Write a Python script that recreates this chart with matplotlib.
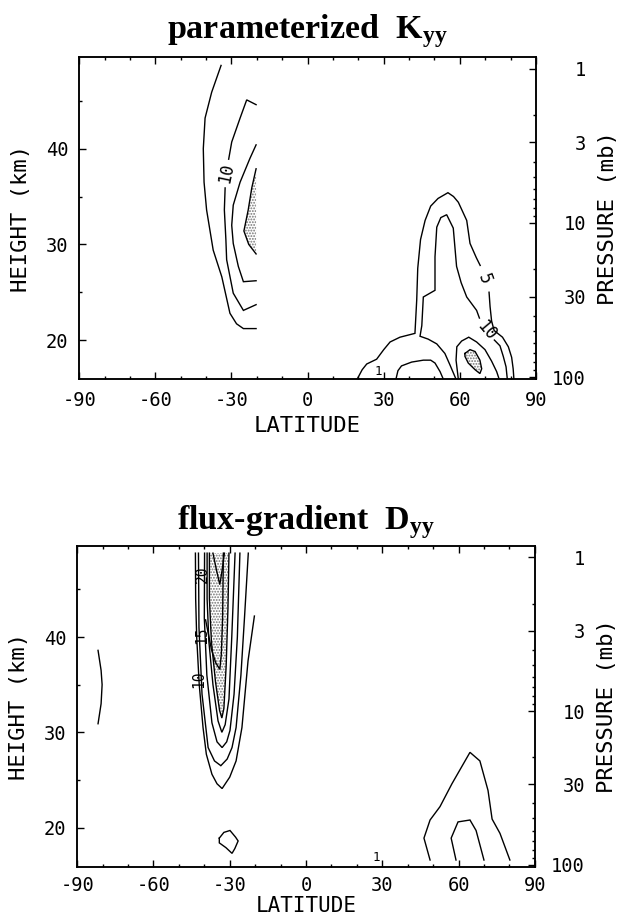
import numpy as np
import matplotlib
matplotlib.use("Agg")
import matplotlib.pyplot as plt
from matplotlib.ticker import FixedLocator

plt.rcParams["font.family"] = ["DejaVu Sans Mono"]
plt.rcParams["axes.unicode_minus"] = False
plt.rcParams["mathtext.fontset"] = "custom"
plt.rcParams["mathtext.rm"] = "Liberation Serif"
plt.rcParams["mathtext.bf"] = "Liberation Serif:bold"
plt.rcParams["hatch.linewidth"] = 0.9

# axes values
lat_ticks = [-90, -60, -30, 0, 30, 60, 90]
lat_minor = [-80, -70, -50, -40, -20, -10, 10, 20, 40, 50, 70, 80]
height_ticks = [20, 30, 40]
height_minor = [25, 35, 45]
pressure_ticks = [1, 3, 10, 30, 100]
pressure_minor = [2, 4, 5, 6, 7, 8, 9, 20, 40, 50, 60, 70, 80, 90]
scale_height = 7.0
z_range = (15.9, 49.55)

# --- parameterized Kyy: contour lines as (latitude, height km) ---
kyy_sh_outer = [(-34.1, 48.7), (-37.8, 45.9), (-40.4, 43.2), (-41.1, 40.0), (-40.8, 36.5),
                (-39.8, 33.6), (-37.2, 29.4), (-33.8, 26.6), (-30.6, 22.8), (-28.0, 21.7),
                (-25.3, 21.2), (-20.3, 21.2)]
kyy_sh_10a = [(-20.3, 44.6), (-24.0, 45.1), (-26.6, 43.2), (-29.9, 40.7), (-31.1, 38.9)]
kyy_sh_10b = [(-32.5, 35.9), (-32.8, 33.6), (-32.2, 30.5), (-31.9, 28.4), (-29.3, 24.9),
              (-25.3, 23.1), (-20.3, 23.7)]
kyy_sh_inner = [(-20.3, 40.4), (-22.7, 39.0), (-26.6, 36.5), (-29.3, 34.1), (-29.9, 32.0),
                (-29.3, 30.1), (-27.3, 27.7), (-25.3, 26.1), (-20.3, 26.2)]
kyy_sh_max = [(-20.3, 37.9), (-22.0, 35.9), (-23.4, 33.6), (-25.1, 31.4), (-23.2, 30.0),
              (-20.3, 29.0)]
kyy_nh_5a = [(19.5, 15.9), (21.5, 16.9), (23.3, 17.5), (27.2, 18.0), (30.0, 19.0),
             (32.5, 19.8), (36.4, 20.3), (42.3, 20.7), (43.0, 24.2), (43.4, 27.5),
             (44.5, 30.5), (46.3, 32.5), (48.5, 34.0), (51.4, 34.8), (55.3, 35.4),
             (57.5, 35.0), (59.4, 34.4), (62.7, 32.5), (64.0, 30.1), (66.5, 28.6),
             (68.0, 27.8)]
kyy_nh_5b = [(71.5, 25.0), (71.9, 23.5), (72.5, 22.0), (73.5, 21.0), (76.8, 20.3),
             (79.1, 19.3), (80.4, 18.2), (81.0, 17.0), (81.3, 15.9)]
kyy_nh_10a = [(58.5, 15.9), (56.1, 17.4), (54.1, 18.6), (50.9, 19.6), (47.5, 20.1),
              (44.3, 20.4), (45.0, 21.5), (45.6, 24.5), (50.2, 25.2), (50.2, 28.7),
              (50.9, 31.8), (52.5, 32.8), (54.8, 33.1), (57.4, 31.7), (58.7, 27.7),
              (60.5, 26.0), (62.7, 24.5), (66.6, 23.1), (67.7, 22.3)]
kyy_nh_10b = [(73.6, 20.0), (75.8, 19.4), (77.1, 18.3), (78.2, 17.2), (78.7, 15.9)]
kyy_nh_inner = [(59.4, 15.9), (58.5, 17.9), (58.8, 19.3), (60.7, 19.9), (63.5, 20.3),
                (66.6, 19.8), (69.9, 19.0), (72.5, 17.8), (74.5, 16.7), (75.5, 15.9)]
kyy_nh_max = [(62.0, 18.6), (64.0, 19.0), (66.0, 18.8), (67.9, 17.9), (68.6, 17.0),
              (67.9, 16.5), (66.0, 16.9), (63.3, 17.6), (62.0, 18.3), (62.0, 18.6)]
kyy_nh_low = [(34.8, 15.9), (35.6, 16.8), (37.0, 17.3), (41.0, 17.7), (45.6, 17.9),
              (48.5, 17.9), (50.2, 17.6), (52.2, 16.7), (53.5, 15.9)]
kyy_labels = [("10", -31.9, 37.4, 78, 12), ("5", 69.8, 26.4, -70, 12),
              ("10", 70.6, 21.0, -50, 12), ("1", 28.0, 16.7, 0, 9)]

# --- flux-gradient Dyy ---
dyy_sh_c0 = [(-43.5, 48.8), (-43.4, 44.0), (-43.0, 40.0), (-42.0, 35.0), (-40.5, 30.5),
             (-39.2, 27.7), (-37.0, 25.6), (-35.0, 24.6), (-33.0, 24.1), (-30.0, 25.3),
             (-27.5, 27.0), (-25.2, 30.5), (-22.8, 37.5), (-20.3, 42.2)]
dyy_sh_c1 = [(-42.3, 48.8), (-42.1, 41.0), (-40.9, 34.0), (-38.5, 28.4), (-36.0, 27.0),
             (-33.5, 26.5), (-31.0, 27.2), (-29.1, 28.4), (-27.5, 30.5), (-25.6, 36.0),
             (-24.2, 42.0), (-22.7, 48.8)]
dyy_sh_c2 = [(-39.9, 48.8), (-40.0, 42.0), (-39.0, 36.0), (-37.0, 31.0), (-35.0, 29.0),
             (-33.0, 28.4), (-31.2, 29.0), (-29.9, 30.2), (-28.3, 34.0), (-27.0, 40.0),
             (-26.0, 48.8)]
dyy_sh_c3 = [(-38.9, 48.8), (-38.9, 44.0), (-38.2, 39.5), (-36.6, 35.0), (-34.6, 31.2),
             (-33.1, 30.0), (-31.8, 30.8), (-30.3, 33.5), (-29.2, 40.0), (-27.9, 48.8)]
dyy_sh_c4 = [(-38.0, 48.8), (-38.0, 44.0), (-37.2, 39.5), (-35.6, 35.3), (-34.0, 32.3),
             (-33.1, 31.5), (-32.3, 32.5), (-31.4, 37.0), (-30.7, 43.0), (-30.3, 48.8)]
dyy_sh_c5 = [(-39.5, 41.8), (-37.2, 38.7), (-35.5, 37.3), (-33.9, 36.6), (-33.3, 38.2),
             (-32.8, 42.0), (-32.5, 48.8)]
dyy_sh_c6 = [(-36.6, 48.8), (-35.2, 47.0), (-33.9, 45.5), (-33.0, 47.0), (-32.1, 48.8)]
dyy_sh_arc = [(-81.8, 38.6), (-80.6, 36.5), (-80.2, 35.0), (-80.6, 33.0), (-81.8, 30.9)]
dyy_sh_low = [(-34.1, 18.9), (-32.3, 19.5), (-29.9, 19.7), (-27.7, 19.0), (-26.7, 18.6),
              (-28.0, 17.8), (-29.1, 17.3), (-31.5, 17.9), (-34.1, 18.4), (-34.1, 18.9)]
dyy_nh_outer = [(48.8, 16.6), (46.4, 18.9), (48.8, 20.8), (52.7, 22.2), (57.4, 24.6),
                (64.5, 27.9), (68.4, 27.0), (71.6, 23.9), (73.2, 20.9), (76.3, 19.4),
                (80.2, 16.6)]
dyy_nh_inner = [(59.0, 16.6), (57.1, 18.9), (59.8, 20.6), (64.5, 20.8), (66.9, 19.7),
                (70.0, 16.6)]
dyy_labels = [("20", -40.6, 46.6, 90, 10.5), ("15", -41.2, 40.2, 90, 10.5),
              ("10", -42.4, 35.6, 90, 10.5), ("1", 27.8, 16.9, 0, 9)]

kyy_lines = [kyy_sh_outer, kyy_sh_10a, kyy_sh_10b, kyy_sh_inner, kyy_sh_max,
             kyy_nh_5a, kyy_nh_5b, kyy_nh_10a, kyy_nh_10b, kyy_nh_inner, kyy_nh_max,
             kyy_nh_low]
dyy_lines = [dyy_sh_c0, dyy_sh_c1, dyy_sh_c2, dyy_sh_c3, dyy_sh_c4, dyy_sh_c5, dyy_sh_c6,
             dyy_sh_arc, dyy_sh_low, dyy_nh_outer, dyy_nh_inner]


def stipple(ax, pts):
    xy = np.array(pts)
    ax.fill(xy[:, 0], xy[:, 1], facecolor="none", edgecolor="0.45",
            hatch="......", linewidth=0)


def panel(ax, title, title_y, lines, labels, tick_pad, xlab_size, xlab_y):
    for pts in lines:
        xy = np.array(pts)
        ax.plot(xy[:, 0], xy[:, 1], color="black", lw=1.0, solid_joinstyle="miter")
    for txt, x, y, rot, size in labels:
        ax.text(x, y, txt, fontsize=size, rotation=rot,
                ha="center", va="center", rotation_mode="anchor")

    ax.set_xlim(-90, 90)
    ax.set_ylim(*z_range)
    ax.xaxis.set_major_locator(FixedLocator(lat_ticks))
    ax.set_xticklabels([str(v) for v in lat_ticks])
    ax.xaxis.set_minor_locator(FixedLocator(lat_minor))
    ax.yaxis.set_major_locator(FixedLocator(height_ticks))
    ax.set_yticklabels([str(v) for v in height_ticks])
    ax.yaxis.set_minor_locator(FixedLocator(height_minor))
    ax.tick_params(which="both", direction="in", top=True, right=False,
                   labelsize=13.5, width=1)
    ax.tick_params(axis="x", pad=tick_pad)
    ax.tick_params(axis="y", pad=8)
    ax.tick_params(which="major", length=5)
    ax.tick_params(which="minor", length=2.5)
    for s in ax.spines.values():
        s.set_linewidth(1.1)
    ax.set_xlabel("LATITUDE", fontsize=xlab_size)
    ax.xaxis.set_label_coords(0.5, xlab_y)
    ax.set_ylabel("HEIGHT (km)", fontsize=16)
    ax.yaxis.set_label_coords(-0.105, 0.5)

    ax2 = ax.twinx()
    ax2.set_ylim(*z_range)
    ax2.yaxis.set_major_locator(FixedLocator([scale_height * np.log(1000 / p) for p in pressure_ticks]))
    ax2.set_yticklabels([str(p) for p in pressure_ticks])
    ax2.yaxis.set_minor_locator(FixedLocator([scale_height * np.log(1000 / p) for p in pressure_minor]))
    ax2.tick_params(which="both", direction="in", labelsize=13.5, pad=36, width=1)
    ax2.tick_params(which="major", length=5)
    ax2.tick_params(which="minor", length=2.5)
    for lab in ax2.get_yticklabels():
        lab.set_horizontalalignment("right")
    ax2.set_ylabel("PRESSURE (mb)", fontsize=16)
    ax2.yaxis.set_label_coords(1.135, 0.5)
    for s in ax2.spines.values():
        s.set_linewidth(1.1)

    ax.text(0.5, title_y, title, transform=ax.transAxes, ha="center", va="baseline",
            fontsize=24.5, fontweight="bold", family="Liberation Serif")


fig = plt.figure(figsize=(6.24, 9.21), dpi=100)
ax_k = fig.add_axes([79.2 / 624, 1 - 379.3 / 921, 456.8 / 624, 322 / 921])
ax_d = fig.add_axes([77.2 / 624, 1 - 866.7 / 921, 457.6 / 624, 320.7 / 921])

stipple(ax_k, kyy_sh_max)
stipple(ax_k, kyy_nh_max)
stipple(ax_d, dyy_sh_c4)

panel(ax_k, r"parameterized  $\mathbf{K_{yy}}$", 1.060, kyy_lines, kyy_labels,
      8.5, 16, -0.115)
panel(ax_d, r"flux-gradient  $\mathbf{D_{yy}}$", 1.052, dyy_lines, dyy_labels,
      6.5, 15, -0.09)

fig.savefig("out.png", dpi=100)
